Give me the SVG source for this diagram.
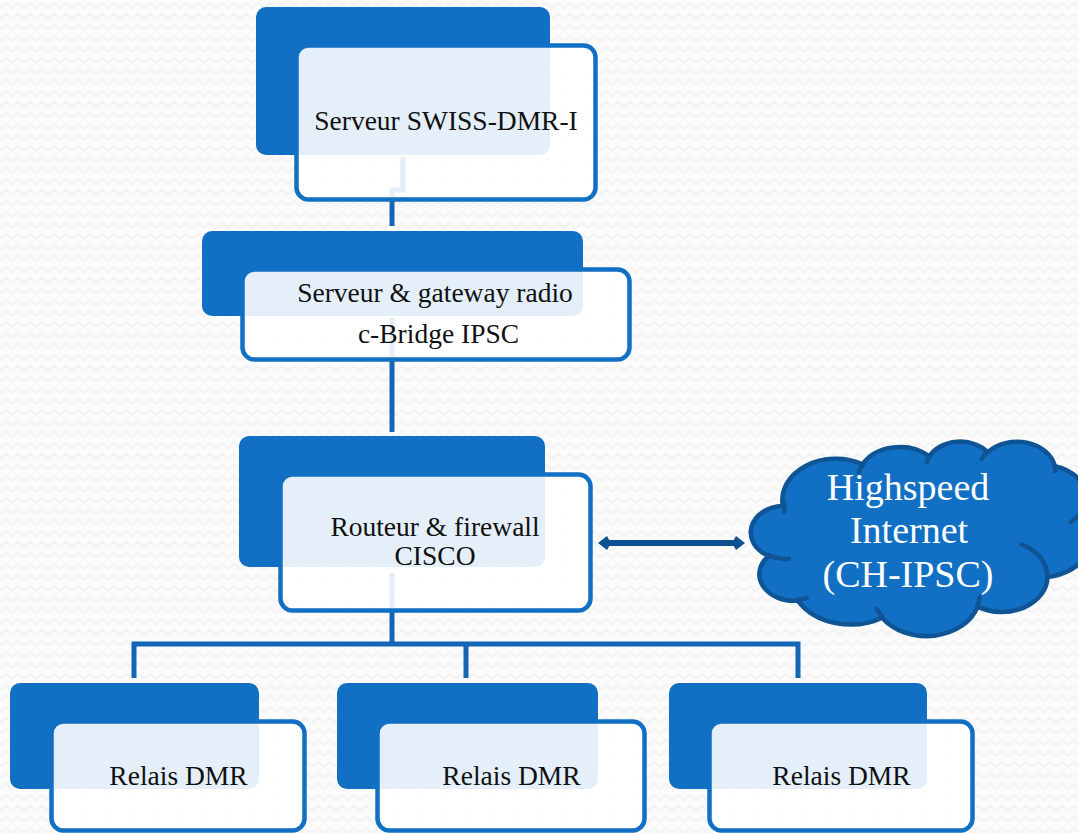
<svg xmlns="http://www.w3.org/2000/svg" width="1078" height="833" viewBox="0 0 1078 833">
<defs>
<pattern id="bgp" width="12" height="11" patternUnits="userSpaceOnUse">
<rect width="12" height="11" fill="#fbfbfb"/>
<path d="M0,8 L6,3 L12,8" fill="none" stroke="#f4f4f4" stroke-width="2.5"/>
</pattern>
<marker id="ah" viewBox="0 0 13 14" markerUnits="userSpaceOnUse" markerWidth="13" markerHeight="14" refX="6" refY="7" orient="auto-start-reverse">
<path d="M0,7 L4,0 L13,7 L4,14 Z" fill="#0E5192"/>
</marker>
</defs>
<style>
.back{fill:#1170C4}
.front{fill:#ffffff;fill-opacity:0.89;stroke:#1170C4;stroke-width:4.5}
.conn{fill:none;stroke:#1266B5;stroke-width:5}
.arrow{fill:none;stroke:#0E5192;stroke-width:6}
.lbl{font-family:"Liberation Serif","DejaVu Serif",serif;font-size:27.5px;fill:#111111;text-anchor:middle}
.cl{font-family:"Liberation Serif","DejaVu Serif",serif;font-size:38px;fill:#ffffff;text-anchor:middle}
.cloud{fill:#1170C4;stroke:#0F5494;stroke-width:4.5;stroke-linejoin:round}
.inner{fill:none;stroke:#0F5494;stroke-width:4.5;stroke-linecap:round}
</style>
<rect width="1078" height="833" fill="url(#bgp)"/>

<g id="connectors">
<path class="conn" d="M403,157 V190 H392 V226"/>
<path class="conn" d="M392,318 V432"/>
<path class="conn" d="M392,573 V644"/>
<path class="conn" d="M134,678 V644 H798 V678 M466,644 V678"/>
<line class="arrow" x1="605" y1="543" x2="738" y2="543" marker-start="url(#ah)" marker-end="url(#ah)"/>
</g>

<g id="node-serveur-swiss">
<rect class="back" x="256" y="7" width="294" height="148" rx="10"/>
<rect class="front" x="296.5" y="45.5" width="299" height="154" rx="12"/>
<text class="lbl" x="446" y="130">Serveur SWISS-DMR-I</text>
</g>

<g id="node-gateway">
<rect class="back" x="202" y="231" width="381" height="85" rx="10"/>
<rect class="front" x="242.5" y="269.5" width="387" height="90" rx="12"/>
<text class="lbl" x="435" y="302">Serveur &amp; gateway radio</text>
<text class="lbl" x="438.5" y="343">c-Bridge IPSC</text>
</g>

<g id="node-routeur">
<rect class="back" x="239" y="436" width="306" height="131" rx="10"/>
<rect class="front" x="280.5" y="474.5" width="310" height="136" rx="12"/>
<text class="lbl" x="435" y="536">Routeur &amp; firewall</text>
<text class="lbl" x="435" y="565">CISCO</text>
</g>

<g id="node-relais-1">
<rect class="back" x="10" y="683" width="249" height="106" rx="10"/>
<rect class="front" x="51.5" y="721.5" width="253" height="109" rx="12"/>
<text class="lbl" x="178.5" y="785">Relais DMR</text>
</g>

<g id="node-relais-2">
<rect class="back" x="337" y="683" width="261" height="106" rx="10"/>
<rect class="front" x="377.5" y="721.5" width="267" height="109" rx="12"/>
<text class="lbl" x="511.5" y="785">Relais DMR</text>
</g>

<g id="node-relais-3">
<rect class="back" x="669" y="683" width="258" height="106" rx="10"/>
<rect class="front" x="709.5" y="721.5" width="263" height="109" rx="12"/>
<text class="lbl" x="841.5" y="785">Relais DMR</text>
</g>

<g id="node-internet">
<path class="cloud" d="M782.8,505.7 A53.35,41.36 0 0 1 862.6,464.4 A42.13,32.70 0 0 1 929.4,456.4 A34.48,26.75 0 0 1 987.7,452.2 A38.37,29.68 0 0 1 1054.7,466.1 A42.13,32.73 0 0 1 1082.4,510.6 A53.52,41.49 0 0 1 1047.5,576.9 A45.70,35.40 0 0 1 977.6,606.6 A53.34,41.47 0 0 1 882.2,617.7 A60.99,47.44 0 0 1 797.8,600.6 A34.44,26.63 0 0 1 768.7,555.9 A34.33,26.75 0 0 1 782.8,505.7 Z"/>
<path class="inner" d="M789.1,558.8 A34.33,26.75 0 0 1 769.1,555.2 M806.7,598.0 A34.44,26.63 0 0 1 798.0,599.8 M882.2,616.9 A53.34,41.47 0 0 1 876.9,609.1 M979.7,597.4 A53.34,41.47 0 0 1 977.6,606.0 M1021.6,544.3 A45.70,35.40 0 0 1 1047.3,576.4 M1082.2,510.1 A42.13,32.73 0 0 1 1070.8,522.1 M1054.8,465.4 A38.37,29.68 0 0 1 1055.4,471.1 M981.7,458.8 A38.37,29.68 0 0 1 987.6,451.5 M926.9,462.2 A34.48,26.75 0 0 1 929.7,456.0 M858.8,472.4 A42.13,32.70 0 0 1 862.6,464.4 M784.6,512.1 A53.35,41.36 0 0 1 784.4,502.3"/>
<text class="cl" x="908" y="500">Highspeed</text>
<text class="cl" x="909" y="543">Internet</text>
<text class="cl" x="908" y="587">(CH-IPSC)</text>
</g>
</svg>
